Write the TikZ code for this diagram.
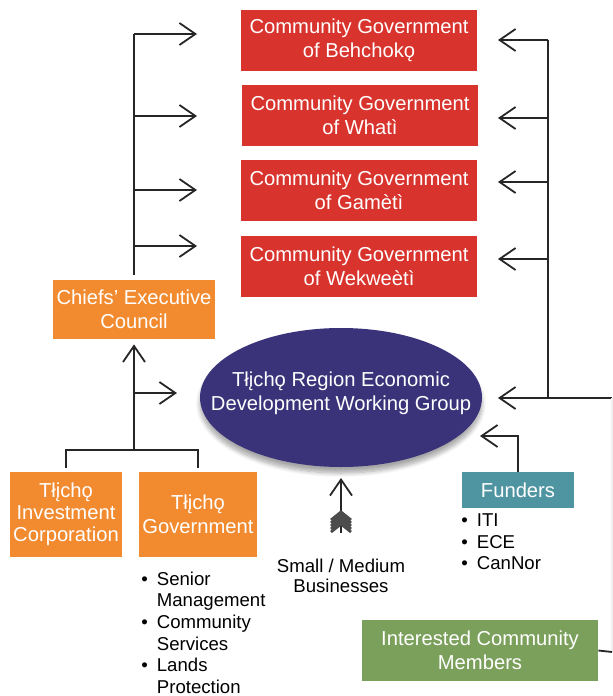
\documentclass[tikz,border=0pt]{standalone}
\usepackage{fontspec}
\setmainfont{Liberation Sans}
\usepackage{tikz}
\usetikzlibrary{arrows.meta,shapes.geometric,shadows.blur,calc}

\definecolor{cgred}{HTML}{D9332D}
\definecolor{tlorange}{HTML}{F28B30}
\definecolor{wgnavy}{HTML}{3A3379}
\definecolor{fundteal}{HTML}{4F95A1}
\definecolor{icmgreen}{HTML}{7BA05B}

\tikzset{
  box/.style={text=white, align=center, inner sep=0pt, font=\fontsize{10.1}{12}\selectfont},
  cgbox/.style={box, fill=cgred, minimum width=118pt, minimum height=30.5pt},
  tlbox/.style={box, fill=tlorange},
  line/.style={line width=0.9pt, draw=black!85},
  arr/.style={line, -{Straight Barb[length=8pt,width=11pt]}},
  feather/.style={line width=1.4pt, draw=black!70},
  plain/.style={inner sep=0pt, font=\fontsize{9.3}{10.8}\selectfont},
}

\begin{document}
\begin{tikzpicture}[x=0.5pt,y=-0.5pt]
\useasboundingbox (0,0) rectangle (612,696);

% communities
\node (cg1) at (359,40.5) [cgbox] {Community Government\\of Behchokǫ};
\node (cg2) at (360,115.5) [cgbox] {Community Government\\of Whatì};
\node (cg3) at (359,190) [cgbox] {Community Government\\of Gamètì};
\node (cg4) at (359,266.5) [cgbox] {Community Government\\of Wekweètì};

% Tlicho side
\node (cec) at (134,309.5) [tlbox, minimum width=81pt, minimum height=29.5pt] {Chiefs’ Executive\\Council};
\node (tic) at (66,514.5) [tlbox, minimum width=56pt, minimum height=42.5pt, font=\fontsize{10.1}{11}\selectfont] {Tłįchǫ\\Investment\\Corporation};
\node (tg) at (198,514.5) [tlbox, minimum width=59pt, minimum height=42.5pt] {Tłįchǫ\\Government};
\node (tglist) at (141,635) [plain, anchor=west] {\begin{tabular}{@{}l@{\hspace{4.5pt}}l@{}}
  \textbullet & Senior\\ & Management\\
  \textbullet & Community\\ & Services\\
  \textbullet & Lands\\ & Protection
\end{tabular}};

% working group
\node (wg) at (341,397.5) [ellipse, fill=wgnavy, minimum width=141pt, minimum height=69.5pt, inner sep=0pt,
  blur shadow={shadow xshift=0pt, shadow yshift=-3pt, shadow opacity=35, shadow blur steps=8}] {};
\node (wgtext) at (341,393) [box] {Tłįchǫ Region Economic\\Development Working Group};

% funders, businesses, members
\node (fund) at (518,490) [box, fill=fundteal, minimum width=56pt, minimum height=18pt] {Funders};
\node (fundlist) at (461,544) [plain, anchor=west] {\begin{tabular}{@{}l@{\hspace{4.5pt}}l@{}}
  \textbullet & ITI\\ \textbullet & ECE\\ \textbullet & CanNor
\end{tabular}};
\node (smb) at (341,576) [plain, align=center, font=\fontsize{9.3}{10}\selectfont] {Small / Medium\\Businesses};
\node (icm) at (480,650.5) [box, fill=icmgreen, minimum width=118pt, minimum height=30.5pt] {Interested Community\\Members};

% trunk points
\foreach \i/\y in {1/34,2/116,3/190,4/246}{
  \coordinate (lt\i) at (134,\y);
  \coordinate (la\i) at (197,\y);
}
\foreach \i/\y in {1/40,2/118,3/182,4/259,5/398}{
  \coordinate (rt\i) at (548,\y);
  \coordinate (ra\i) at (498,\y);
}
\coordinate (redge) at (612,398);
\coordinate (iedge) at (612,652);
\coordinate (jn) at (134,450);
\coordinate (br) at (134,393);
\coordinate (bra) at (177,393);
\coordinate (fa) at (480,436);
\coordinate (smt) at (341,533);
\coordinate (sma) at (341,478);

\draw[line, shorten <=2.5pt] (cec.north) -- (lt1);
\foreach \i in {1,...,4} \draw[arr] (lt\i) -- (la\i);

\draw[line] (rt1) -- (rt5) -- (redge);
\foreach \i in {1,...,5} \draw[arr] (rt\i) -- (ra\i);
\draw[line, draw=black!6] (redge) -- (iedge);
\draw[line] (icm.east) -- (iedge);

\draw[line] ([yshift=2pt]tic.north) |- (jn) -| ([yshift=2pt]tg.north);
\draw[arr, shorten >=2.5pt] (jn) -- (cec.south);
\draw[arr] (br) -- (bra);

\draw[arr] (fund.north) |- (fa);

\draw[arr] (smt) -- (sma);
\foreach \k in {0,...,4}
  \draw[feather] ($(smt)+(-10,-13+3*\k)$) -- ++(10,-8) -- ++(10,8);

\end{tikzpicture}
\end{document}
